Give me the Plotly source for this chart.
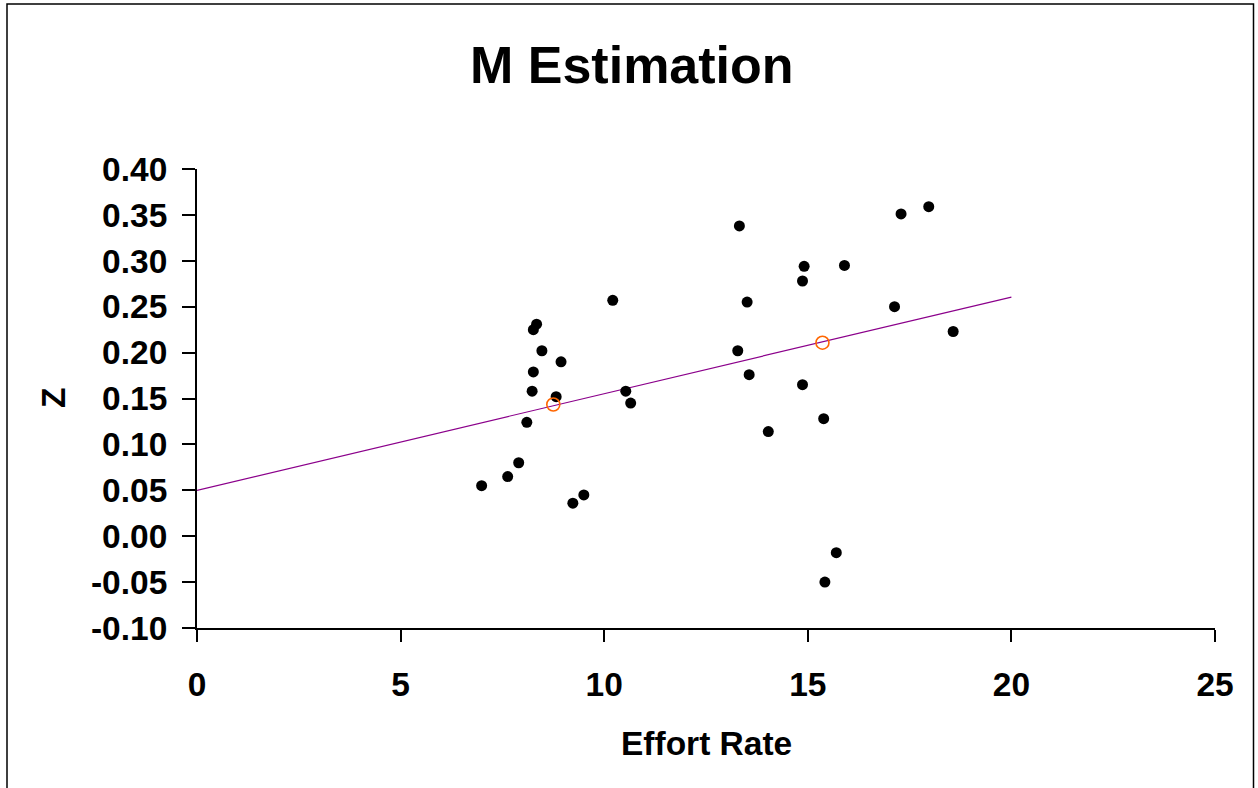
import plotly.graph_objects as go

# Data
effort = [6.99, 7.63, 7.90, 8.10, 8.23, 8.26, 8.26, 8.34, 8.47, 8.94, 8.82, 9.23, 9.50,
          10.21, 10.53, 10.65, 13.28, 13.32, 13.51, 13.56, 14.03, 14.87, 14.91, 14.87,
          15.39, 15.42, 15.70, 15.90, 17.13, 17.29, 17.97, 18.57]
z_vals = [0.055, 0.065, 0.080, 0.124, 0.158, 0.179, 0.225, 0.231, 0.202, 0.190, 0.152, 0.036, 0.045,
          0.257, 0.158, 0.145, 0.202, 0.338, 0.255, 0.176, 0.114, 0.278, 0.294, 0.165,
          0.128, -0.050, -0.018, 0.295, 0.250, 0.351, 0.359, 0.223]
mean_x = [8.75, 15.36]
mean_z = [0.1435, 0.2108]
fit_x = [0, 20]
fit_z = [0.050, 0.2605]

x_ticks = [0, 5, 10, 15, 20, 25]
y_ticks = [-0.10, -0.05, 0.00, 0.05, 0.10, 0.15, 0.20, 0.25, 0.30, 0.35, 0.40]

FONT = "Liberation Sans, Arial, sans-serif"

fig = go.Figure()
fig.add_trace(go.Scatter(x=fit_x, y=fit_z, mode="lines",
                         line=dict(color="#8B008B", width=1.2), showlegend=False))
fig.add_trace(go.Scatter(x=effort, y=z_vals, mode="markers",
                         marker=dict(color="black", size=11), showlegend=False))
fig.add_trace(go.Scatter(x=mean_x, y=mean_z, mode="markers",
                         marker=dict(symbol="circle-open", color="#FF6600", size=13,
                                     line=dict(width=1.6, color="#FF6600")),
                         showlegend=False))

# plot area geometry in screen pixels (page body margin removed below)
L, R, T, B = 197, 1215, 169, 628
W, H = 1258, 788
def px(xs):
    return (xs - L) / (R - L)
def py(ys):
    return (B - ys) / (B - T)

fig.update_layout(
    width=W, height=H,
    margin=dict(l=L, r=W - R, t=T, b=H - B, pad=0),
    paper_bgcolor="white", plot_bgcolor="white",
    font=dict(family=FONT, color="black"),
    xaxis=dict(range=[0, 25], tickvals=x_ticks, ticktext=[str(v) for v in x_ticks],
               showline=True, linecolor="black", linewidth=2, mirror=False,
               ticks="outside", ticklen=12, tickwidth=2, tickcolor="black",
               ticklabelstandoff=14,
               showgrid=False, zeroline=False,
               tickfont=dict(family=FONT, size=33.5, weight="bold", color="black")),
    yaxis=dict(range=[-0.10, 0.40], tickvals=y_ticks,
               ticktext=[f"{v:.2f}" for v in y_ticks],
               showline=True, linecolor="black", linewidth=2, mirror=False,
               ticks="outside", ticklen=13, tickwidth=2, tickcolor="black",
               ticklabelstandoff=8,
               showgrid=False, zeroline=False,
               tickfont=dict(family=FONT, size=33.5, weight="bold", color="black")),
    shapes=[dict(type="rect", xref="paper", yref="paper",
                 x0=px(7), x1=px(1253.5), y0=py(800), y1=py(4),
                 line=dict(color="black", width=1.5), fillcolor="rgba(0,0,0,0)")],
    annotations=[
        dict(text="M Estimation", xref="paper", yref="paper", x=px(632), y=py(65),
             xanchor="center", yanchor="middle", showarrow=False,
             font=dict(family=FONT, size=52, weight="bold", color="black")),
        dict(text="Effort Rate", xref="paper", yref="paper", x=px(706), y=py(743),
             xanchor="center", yanchor="middle", showarrow=False,
             font=dict(family=FONT, size=33.5, weight="bold", color="black")),
        dict(text="Z", xref="paper", yref="paper", x=px(53), y=py(398),
             xanchor="center", yanchor="middle", showarrow=False, textangle=-90,
             font=dict(family=FONT, size=33.5, weight="bold", color="black")),
    ],
)

fig.write_html("out.html", config={"displayModeBar": False},
               post_script="document.body.style.margin='0';document.body.style.overflow='hidden';")
